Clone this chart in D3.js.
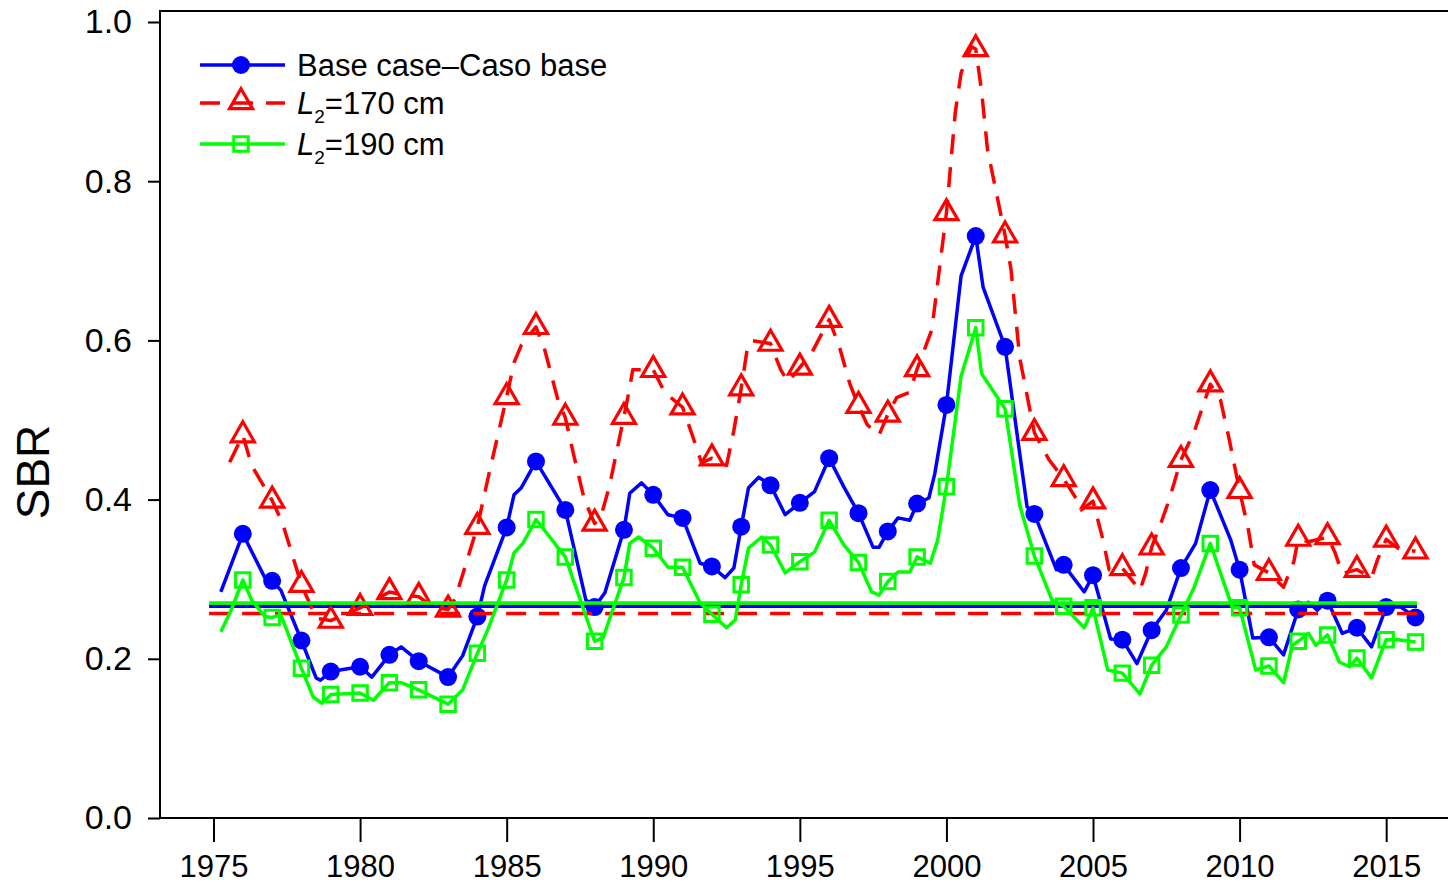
<!DOCTYPE html>
<html><head><meta charset="utf-8">
<script src="https://cdn.jsdelivr.net/npm/d3@7"></script>
<style>body{margin:0;background:#fff}svg{display:block;font-family:"Liberation Sans",Arial,sans-serif}</style>
</head><body><svg id="c" width="1448" height="887"></svg>
<script>
// ---------------- data ----------------
const markerYears = [1976,1977,1978,1979,1980,1981,1982,1983,1984,1985,1986,1987,1988,1989,1990,1991,1992,1993,1994,1995,1996,1997,1998,1999,2000,2001,2002,2003,2004,2005,2006,2007,2008,2009,2010,2011,2012,2013,2014,2015,2016];
const xTickLabels = [1975,1980,1985,1990,1995,2000,2005,2010,2015];
const yTickLabels = [0,0.2,0.4,0.6,0.8,1.0];
const seriesNames = ["Base case\u2013Caso base","=170 cm","=190 cm"];

const baseMarkers = [0.357,0.298,0.223,0.184,0.190,0.205,0.197,0.177,0.253,0.365,0.448,0.387,0.265,0.362,0.406,0.377,0.316,0.366,0.418,0.396,0.452,0.383,0.360,0.395,0.519,0.731,0.592,0.382,0.318,0.305,0.224,0.236,0.314,0.412,0.312,0.227,0.262,0.273,0.239,0.265,0.252];
const l170Markers = [0.481,0.399,0.293,0.248,0.264,0.284,0.278,0.262,0.366,0.529,0.617,0.503,0.370,0.504,0.563,0.516,0.452,0.540,0.596,0.566,0.626,0.518,0.507,0.564,0.760,0.966,0.732,0.484,0.426,0.398,0.314,0.340,0.450,0.545,0.411,0.308,0.351,0.353,0.312,0.350,0.335];
const l190Markers = [0.299,0.252,0.188,0.155,0.157,0.170,0.161,0.143,0.207,0.299,0.375,0.328,0.222,0.302,0.339,0.315,0.256,0.293,0.343,0.322,0.374,0.321,0.297,0.328,0.416,0.616,0.514,0.329,0.266,0.264,0.182,0.192,0.255,0.345,0.264,0.191,0.222,0.230,0.201,0.224,0.221];

// intermediate (quarterly) vertices of the lines
const baseKnots = [[1975.25,0.284],[1976.75,0.302],[1977.3,0.286],[1978.5,0.176],[1978.65,0.173],[1980.4,0.177],[1981.4,0.215],[1983.5,0.204],[1984.25,0.292],[1985.25,0.406],[1985.5,0.415],[1987.7,0.274],[1988.35,0.283],[1989.2,0.408],[1989.6,0.421],[1990.5,0.381],[1991.6,0.320],[1992.45,0.302],[1992.75,0.314],[1993.25,0.415],[1993.6,0.428],[1994.5,0.381],[1995.5,0.410],[1996.5,0.416],[1997.5,0.340],[1997.7,0.340],[1998.35,0.377],[1998.75,0.374],[1999.4,0.402],[1999.6,0.432],[2000.5,0.681],[2001.25,0.667],[2002.75,0.391],[2003.75,0.312],[2004.7,0.284],[2005.6,0.225],[2006.5,0.194],[2007.5,0.261],[2008.5,0.345],[2009.7,0.349],[2010.45,0.226],[2011.5,0.205],[2012.35,0.271],[2012.65,0.261],[2013.5,0.232],[2014.5,0.215],[2015.5,0.265]];
const l170Knots = [[1975.55,0.447],[1976.3,0.443],[1977.35,0.371],[1978.5,0.251],[1981.5,0.280],[1982.5,0.265],[1983.25,0.276],[1984.4,0.433],[1984.7,0.481],[1985.25,0.572],[1985.5,0.594],[1986.3,0.588],[1986.75,0.525],[1987.3,0.454],[1987.65,0.400],[1988.2,0.377],[1988.5,0.416],[1989.2,0.541],[1989.3,0.563],[1990.4,0.534],[1991.35,0.479],[1991.65,0.446],[1992.5,0.443],[1992.75,0.487],[1993.2,0.588],[1993.35,0.600],[1994.35,0.563],[1994.6,0.548],[1995.4,0.584],[1996.35,0.592],[1996.7,0.546],[1997.3,0.494],[1997.7,0.481],[1998.3,0.528],[1998.75,0.535],[1999.5,0.613],[2000.3,0.886],[2000.5,0.936],[2000.85,0.969],[2001.2,0.913],[2001.4,0.840],[2001.8,0.768],[2002.2,0.690],[2002.5,0.578],[2003.5,0.450],[2004.45,0.400],[2004.6,0.387],[2005.35,0.348],[2005.55,0.312],[2006.6,0.286],[2006.8,0.308],[2007.35,0.374],[2007.6,0.400],[2008.45,0.485],[2009.35,0.525],[2009.65,0.475],[2010.3,0.362],[2010.5,0.318],[2011.5,0.290],[2011.85,0.322],[2012.35,0.347],[2013.25,0.334],[2013.5,0.307],[2014.5,0.302],[2014.7,0.324],[2015.4,0.339]];
const l190Knots = [[1975.25,0.234],[1975.6,0.261],[1976.3,0.274],[1976.75,0.253],[1977.3,0.255],[1978.4,0.152],[1978.7,0.144],[1980.45,0.148],[1981.4,0.170],[1983.5,0.161],[1984.35,0.236],[1985.25,0.333],[1985.55,0.345],[1988.3,0.227],[1988.5,0.249],[1989.2,0.345],[1989.5,0.353],[1990.5,0.315],[1991.6,0.270],[1992.5,0.239],[1992.8,0.249],[1993.25,0.339],[1993.7,0.353],[1994.5,0.308],[1995.5,0.334],[1996.5,0.343],[1997.45,0.284],[1997.7,0.280],[1998.35,0.309],[1998.75,0.309],[1999.45,0.320],[1999.7,0.349],[2000.5,0.555],[2001.2,0.558],[2002.5,0.393],[2003.6,0.274],[2004.7,0.239],[2005.5,0.186],[2006.6,0.156],[2007.5,0.215],[2008.45,0.290],[2009.75,0.265],[2010.55,0.186],[2011.5,0.170],[2011.8,0.217],[2012.35,0.232],[2012.6,0.217],[2013.4,0.196],[2013.75,0.190],[2014.5,0.176],[2015.4,0.224]];

// reference (horizontal) levels
const refLevels = [0.266, 0.257, 0.270];
const refSpan = [1974.85, 2016.05];

// ---------------- drawing ----------------
(function () {
const svg = d3.select("#c");
const W = 1448, H = 887;
const pLeft = 160, pTop = 11, pBottom = 818;
const x = d3.scaleLinear().domain([1975, 2016]).range([213.5, 1415.5]);
const y = d3.scaleLinear().domain([0, 1]).range([818, 22]);
const font = '"Liberation Sans", Arial, sans-serif';

svg.append("rect").attr("width", W).attr("height", H).attr("fill", "#fff");

// box
svg.append("path").attr("d", `M${W+5},${pTop}H${pLeft}V${pBottom}H${W+5}`)
  .attr("fill", "none").attr("stroke", "#000").attr("stroke-width", 2);

// y axis
const ya = svg.append("g").attr("transform", `translate(${pLeft},0)`)
  .call(d3.axisLeft(y).tickValues(yTickLabels).tickFormat(d3.format(".1f")).tickSize(12).tickPadding(16));
ya.select(".domain").remove();
ya.selectAll("line").attr("stroke", "#000").attr("stroke-width", 2);
ya.selectAll("text").attr("font-family", font).attr("font-size", 34).attr("fill", "#000");

// x axis
const xa = svg.append("g").attr("transform", `translate(0,${pBottom})`)
  .call(d3.axisBottom(x).tickValues(xTickLabels).tickFormat(d3.format("d")).tickSize(24).tickPadding(13));
xa.select(".domain").remove();
xa.selectAll("line").attr("stroke", "#000").attr("stroke-width", 2);
xa.selectAll("text").attr("font-family", font).attr("font-size", 31).attr("fill", "#000");

// y label
svg.append("text").attr("transform", "translate(49,472) rotate(-90)")
  .attr("text-anchor", "middle").attr("font-family", font).attr("font-size", 46).text("SBR");

function mergeSeries(markers, knots) {
  const pts = markerYears.map((yr, i) => [yr, markers[i]]).concat(knots);
  return pts.sort((a, b) => a[0] - b[0]);
}
const line = d3.line().x(d => x(d[0])).y(d => y(d[1]));
const dash = "20,13";

const series = [
  {name: seriesNames[0], color: "#0000ff", markers: baseMarkers, knots: baseKnots, dash: null, shape: "circle", ref: refLevels[0]},
  {name: seriesNames[1], color: "#ff0000", markers: l170Markers, knots: l170Knots, dash: dash, shape: "triangle", ref: refLevels[1]},
  {name: seriesNames[2], color: "#00ff00", markers: l190Markers, knots: l190Knots, dash: null, shape: "square", ref: refLevels[2]}
];

function drawMarker(g, shape, color, cx, cy) {
  if (shape === "circle") {
    g.append("circle").attr("cx", cx).attr("cy", cy).attr("r", 9).attr("fill", color);
  } else if (shape === "triangle") {
    g.append("path").attr("transform", `translate(${cx},${cy})`)
      .attr("d", d3.symbol(d3.symbolTriangle, 230)())
      .attr("fill", "none").attr("stroke", color).attr("stroke-width", 3.2);
  } else {
    g.append("path").attr("transform", `translate(${cx},${cy})`)
      .attr("d", d3.symbol(d3.symbolSquare, 210)())
      .attr("fill", "none").attr("stroke", color).attr("stroke-width", 3);
  }
}

series.forEach(s => {
  const g = svg.append("g");
  g.append("path").datum(mergeSeries(s.markers, s.knots)).attr("d", line)
    .attr("fill", "none").attr("stroke", s.color).attr("stroke-width", 3.5)
    .attr("stroke-linejoin", "round").attr("stroke-dasharray", s.dash);
  markerYears.forEach((yr, i) => drawMarker(g, s.shape, s.color, x(yr), y(s.markers[i])));
  g.append("line").attr("x1", x(refSpan[0])).attr("x2", x(refSpan[1]))
    .attr("y1", y(s.ref)).attr("y2", y(s.ref))
    .attr("stroke", s.color).attr("stroke-width", 3.5).attr("stroke-dasharray", s.dash);
});

// legend
const lg = svg.append("g");
const rowsY = [65, 103, 144];
series.forEach((s, i) => {
  const yy = rowsY[i];
  lg.append("line").attr("x1", 200).attr("x2", 285).attr("y1", yy).attr("y2", yy)
    .attr("stroke", s.color).attr("stroke-width", 3.5).attr("stroke-dasharray", s.dash);
  drawMarker(lg, s.shape, s.color, 241, yy + (s.shape === "triangle" ? -1 : 0));
  const t = lg.append("text").attr("x", 297).attr("y", yy + 11)
    .attr("font-family", font).attr("font-size", 31).attr("fill", "#000");
  if (i === 0) {
    t.text(s.name);
  } else {
    t.append("tspan").attr("font-style", "italic").text("L");
    t.append("tspan").attr("font-size", 19).attr("dy", 9).text("2");
    t.append("tspan").attr("dy", -9).text(s.name);
  }
});
})();
</script>
</body></html>
